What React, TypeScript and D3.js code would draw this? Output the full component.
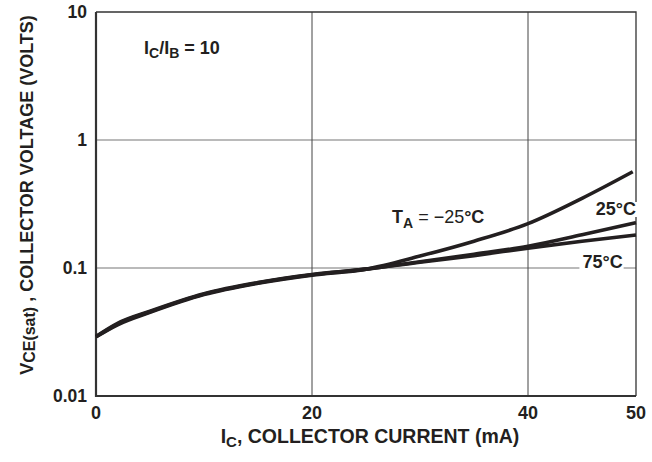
import React, { useEffect, useRef } from 'react';
import * as d3 from 'd3';

// collector current (mA)
const currents = [0, 2, 5, 10, 15, 20, 25, 30, 35, 40, 45, 50];
// VCE(sat) in volts for each ambient temperature
const vMinus25 = [0.029, 0.036, 0.045, 0.062, 0.076, 0.088, 0.098, 0.124, 0.162, 0.222, 0.35, 0.565];
const v25 = [0.029, 0.0365, 0.0455, 0.0625, 0.0765, 0.0885, 0.098, 0.112, 0.128, 0.148, 0.182, 0.226];
const v75 = [0.0292, 0.037, 0.046, 0.063, 0.077, 0.089, 0.098, 0.111, 0.125, 0.143, 0.162, 0.181];

const xTicks = [0, 20, 40, 50];
const yTicks = [0.01, 0.1, 1, 10];
const yTickLabels = ['0.01', '0.1', '1', '10'];

const FONT = '"Liberation Sans", Arial, sans-serif';
const INK = '#231f20';

const App = () => {
  const ref = useRef<SVGSVGElement>(null);

  useEffect(() => {
    const svg = d3.select(ref.current);
    svg.selectAll('*').remove();

    const x = d3.scaleLinear().domain([0, 50]).range([96, 636]);
    const y = d3.scaleLog().domain([0.01, 10]).range([396, 12]);

    // horizontal grid
    svg
      .selectAll('.hgrid')
      .data([0.1, 1])
      .enter()
      .append('line')
      .attr('x1', x(0))
      .attr('x2', x(50))
      .attr('y1', (d) => y(d))
      .attr('y2', (d) => y(d))
      .attr('stroke', '#777')
      .attr('stroke-width', 1.2);

    // vertical grid
    svg
      .selectAll('.vgrid')
      .data([20, 40])
      .enter()
      .append('line')
      .attr('x1', (d) => x(d))
      .attr('x2', (d) => x(d))
      .attr('y1', y(10))
      .attr('y2', y(0.01))
      .attr('stroke', '#444')
      .attr('stroke-width', 1);

    // frame
    svg
      .append('path')
      .attr('d', `M${x(0)},${y(10)}H${x(50)}V${y(0.01)}`)
      .attr('fill', 'none')
      .attr('stroke', '#333')
      .attr('stroke-width', 1.3);
    svg
      .append('path')
      .attr('d', `M${x(0)},${y(10)}V${y(0.01)}H${x(50)}`)
      .attr('fill', 'none')
      .attr('stroke', '#333')
      .attr('stroke-width', 2.2);

    // curves
    const series = [
      currents.map((c, i) => [c === 50 ? 49.7 : c, vMinus25[i]]),
      currents.map((c, i) => [c, v25[i]]),
      currents.map((c, i) => [c, v75[i]]),
    ];
    const line = d3
      .line<number[]>()
      .x((d) => x(d[0]))
      .y((d) => y(d[1]))
      .curve(d3.curveMonotoneX);

    svg
      .selectAll('.curve')
      .data(series)
      .enter()
      .append('path')
      .attr('d', (d) => line(d))
      .attr('fill', 'none')
      .attr('stroke', INK)
      .attr('stroke-width', 3.6);

    const txt = (sel: any, size: number) =>
      sel
        .attr('font-family', FONT)
        .attr('font-weight', 'bold')
        .attr('font-size', size)
        .attr('fill', INK);

    // curve labels with white backing
    const label = (tx: number, ty: number, text: string, anchor: string) => {
      const t = txt(svg.append('text'), 18)
        .attr('x', tx)
        .attr('y', ty)
        .attr('text-anchor', anchor)
        .text(text);
      const b = (t.node() as SVGTextElement).getBBox();
      svg
        .insert('rect', 'text')
        .attr('x', b.x - 3)
        .attr('y', b.y + 3)
        .attr('width', b.width + 4)
        .attr('height', b.height - 5)
        .attr('fill', 'white');
    };
    label(x(50), 215, '25°C', 'end');
    label(x(46.9), 268, '75°C', 'middle');

    // TA = -25°C
    const ta = txt(svg.append('text'), 18).attr('x', 392).attr('y', 223);
    ta.append('tspan').text('T');
    ta.append('tspan').attr('font-size', 14).attr('dy', 5).text('A');
    ta.append('tspan').attr('dy', -5).attr('font-weight', 'normal').text(' = −25');
    ta.append('tspan').text('°C');

    // IC/IB = 10
    const ic = txt(svg.append('text'), 18).attr('x', 144).attr('y', 54);
    ic.append('tspan').text('I');
    ic.append('tspan').attr('font-size', 14).attr('dy', 4).text('C');
    ic.append('tspan').attr('dy', -4).text('/I');
    ic.append('tspan').attr('font-size', 14).attr('dy', 4).text('B');
    ic.append('tspan').attr('dy', -4).text(' = 10');

    // y tick labels
    txt(svg.selectAll('.ytick').data(yTicks).enter().append('text'), 17.5)
      .attr('x', 87)
      .attr('y', (d: number) => y(d) + 6)
      .attr('text-anchor', 'end')
      .text((d: number, i: number) => yTickLabels[i]);

    // x tick labels
    txt(svg.selectAll('.xtick').data(xTicks).enter().append('text'), 18)
      .attr('x', (d: number) => x(d))
      .attr('y', 419)
      .attr('text-anchor', 'middle')
      .text((d: number) => String(d));

    // x axis title
    const xt = txt(svg.append('text'), 19.5).attr('x', 370).attr('y', 443).attr('text-anchor', 'middle');
    xt.append('tspan').text('I');
    xt.append('tspan').attr('font-size', 15).attr('dy', 4).text('C');
    xt.append('tspan').attr('dy', -4).text(', COLLECTOR CURRENT (mA)');

    // y axis title
    const yt = txt(svg.append('text'), 18)
      .attr('transform', 'translate(33,195) rotate(-90)')
      .attr('text-anchor', 'middle');
    yt.append('tspan').text('V');
    yt.append('tspan').attr('font-size', 16).attr('dy', 2).text('CE(sat)');
    yt.append('tspan').attr('dy', -2).text(' , COLLECTOR VOLTAGE (VOLTS)');
  }, []);

  return (
    <svg
      ref={ref}
      width={652}
      height={462}
      style={{ position: 'absolute', left: 0, top: 0, background: 'white' }}
    />
  );
};

export default App;
